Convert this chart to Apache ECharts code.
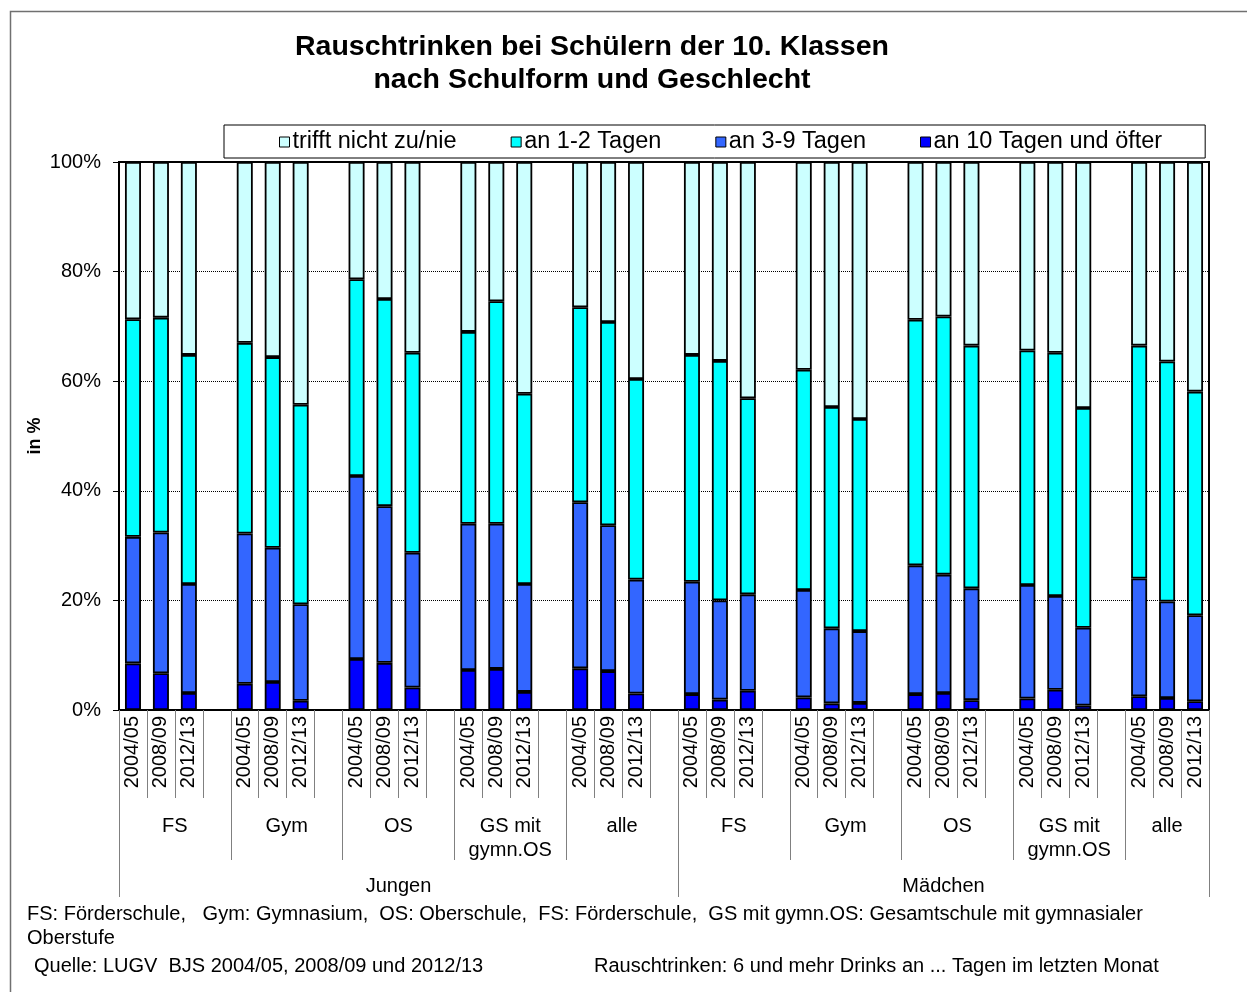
<!DOCTYPE html>
<html>
<head>
<meta charset="utf-8">
<script src="https://cdn.jsdelivr.net/npm/echarts@6/dist/echarts.min.js"></script>
<style>
  html, body { margin: 0; padding: 0; background: #fff; }
  #chart { width: 1247px; height: 992px; }
</style>
</head>
<body>
<div id="chart"></div>
<script>
const years = ['2004/05', '2008/09', '2012/13'];
const schools = ['FS', 'Gym', 'OS', 'GS mit\ngymn.OS', 'alle'];
const genders = ['Jungen', 'Mädchen'];
const seriesNames = ['trifft nicht zu/nie', 'an 1-2 Tagen', 'an 3-9 Tagen', 'an 10 Tagen und öfter'];

// Anteile in %, Reihenfolge: Jungen FS..alle, Mädchen FS..alle, je 2004/05, 2008/09, 2012/13
const tage10 = [8.5, 6.7, 3.1, 4.8, 5.1, 1.7, 9.3, 8.6, 4.1, 7.3, 7.5, 3.3, 7.6, 7.1, 3.0,
                2.9, 1.9, 3.5, 2.3, 1.2, 1.3, 2.9, 3.1, 1.8, 2.1, 3.7, 0.8, 2.5, 2.2, 1.6];
const tage3bis9 = [23.1, 25.7, 19.9, 27.4, 24.5, 17.6, 33.4, 28.6, 24.6, 26.7, 26.5, 19.7, 30.3, 26.6, 20.8,
                   20.5, 18.1, 17.6, 19.6, 13.7, 13.1, 23.5, 21.6, 20.4, 20.7, 17.1, 14.2, 21.5, 17.6, 15.7];
const tage1bis2 = [39.7, 39.2, 41.8, 34.8, 34.8, 36.4, 35.9, 37.8, 36.5, 35.0, 40.6, 34.7, 35.6, 37.1, 36.6,
                   41.4, 43.7, 35.8, 40.2, 40.4, 38.7, 44.8, 47.1, 44.3, 42.8, 44.4, 40.1, 42.5, 43.8, 40.8];
const nie = [28.7, 28.4, 35.2, 33.0, 35.6, 44.3, 21.4, 25.0, 34.8, 31.0, 25.4, 42.3, 26.5, 29.2, 39.6,
             35.2, 36.3, 43.1, 37.9, 44.7, 46.9, 28.8, 28.2, 33.5, 34.4, 34.8, 44.9, 33.5, 36.4, 41.9];
const yTicks = [0, 20, 40, 60, 80, 100];

// Kategorien mit Lücke nach jeder Gruppe (außer der letzten)
var cats = [], slot = [];
var groupTicks = [0], groupCenters = [], genderTicks = [0], genderCenters = [];
var k = 0;
genders.forEach(function (g, gi) {
  var gStart = cats.length;
  schools.forEach(function (s, si) {
    var start = cats.length;
    years.forEach(function (y) { cats.push(y); slot.push(k++); });
    if (!(gi === genders.length - 1 && si === schools.length - 1)) { cats.push(''); slot.push(-1); }
    groupCenters.push(start + (cats.length - start) / 2);
    groupTicks.push(cats.length);
  });
  genderCenters.push(gStart + (cats.length - gStart) / 2);
  genderTicks.push(cats.length);
});
var groupNames = [];
genders.forEach(function () { groupNames = groupNames.concat(schools); });

function pick(arr) {
  return slot.map(function (i) { return i < 0 ? '-' : arr[i]; });
}

var font = "'Liberation Sans', Arial, sans-serif";
var tickStyle = { color: '#808080', width: 1 };

function bar(name, data, color) {
  return {
    name: name,
    type: 'bar',
    stack: 'alle',
    barWidth: 16,
    data: data,
    itemStyle: { color: color, borderColor: '#000', borderWidth: 1.8 }
  };
}

var option = {
  animation: false,
  textStyle: { fontFamily: font, color: '#000' },
  title: [
    {
      text: 'Rauschtrinken bei Schülern der 10. Klassen\nnach Schulform und Geschlecht',
      left: 592, top: 31, padding: 0, textAlign: 'center',
      textStyle: { fontFamily: font, fontSize: 28.5, fontWeight: 'bold', color: '#000', lineHeight: 33 }
    },
    {
      text: 'FS: Förderschule,   Gym: Gymnasium,  OS: Oberschule,  FS: Förderschule,  GS mit gymn.OS: Gesamtschule mit gymnasialer\nOberstufe',
      left: 27, top: 902, padding: 0,
      textStyle: { fontFamily: font, fontSize: 20, fontWeight: 'normal', color: '#000', lineHeight: 24 }
    },
    {
      text: 'Quelle: LUGV  BJS 2004/05, 2008/09 und 2012/13',
      left: 34, top: 956, padding: 0,
      textStyle: { fontFamily: font, fontSize: 20, fontWeight: 'normal', color: '#000' }
    },
    {
      text: 'Rauschtrinken: 6 und mehr Drinks an ... Tagen im letzten Monat',
      left: 594, top: 956, padding: 0,
      textStyle: { fontFamily: font, fontSize: 20, fontWeight: 'normal', color: '#000' }
    }
  ],
  graphic: [{
    type: 'rect', left: 8, top: 9, silent: true,
    shape: { width: 1400, height: 1200 },
    style: { fill: 'none', stroke: '#707070', lineWidth: 1.5 }
  }],
  legend: {
    data: seriesNames,
    left: 224, top: 125,
    padding: [5, 43, 4, 55],
    itemGap: 54,
    itemWidth: 10, itemHeight: 10,
    icon: 'rect',
    borderColor: '#000', borderWidth: 1,
    itemStyle: { borderColor: '#000', borderWidth: 1 },
    textStyle: { fontFamily: font, fontSize: 23.5, color: '#000', padding: [0, 0, 0, -2] }
  },
  grid: {
    left: 119, right: 38, top: 162, bottom: 282,
    show: true, borderColor: '#000', borderWidth: 2, backgroundColor: 'transparent'
  },
  xAxis: [
    {
      type: 'category',
      data: cats,
      axisLine: { lineStyle: { color: '#000', width: 2 } },
      axisTick: { show: true, interval: 0, length: 88, lineStyle: tickStyle },
      axisLabel: { interval: 0, rotate: 90, margin: 6, fontSize: 20, color: '#000' },
      splitLine: { show: false }
    },
    {
      type: 'value', min: 0, max: cats.length, position: 'bottom',
      axisLine: { show: false },
      axisTick: { show: true, customValues: groupTicks, length: 150, lineStyle: tickStyle },
      axisLabel: {
        customValues: groupCenters, margin: 104, fontSize: 20, color: '#000', lineHeight: 24,
        formatter: function (v) { return groupNames[groupCenters.indexOf(v)] || ''; }
      },
      splitLine: { show: false }
    },
    {
      type: 'value', min: 0, max: cats.length, position: 'bottom',
      axisLine: { show: false },
      axisTick: { show: true, customValues: genderTicks, length: 187, lineStyle: tickStyle },
      axisLabel: {
        customValues: genderCenters, margin: 166, fontSize: 20, color: '#000',
        formatter: function (v) { return genders[genderCenters.indexOf(v)] || ''; }
      },
      splitLine: { show: false }
    }
  ],
  yAxis: {
    type: 'value', min: yTicks[0], max: yTicks[yTicks.length - 1], interval: 20,
    name: 'in %', nameLocation: 'middle', nameRotate: 90, nameGap: 75, nameMoveOverlap: false,
    nameTextStyle: { fontFamily: font, fontSize: 18, fontWeight: 'bold', color: '#000' },
    axisLine: { show: true, lineStyle: { color: '#000', width: 1 } },
    axisTick: { show: true, length: 6, lineStyle: { color: '#000' } },
    axisLabel: { formatter: '{value}%', fontSize: 20, color: '#000', margin: 18 },
    splitLine: { show: true, lineStyle: { color: '#000', type: 'dotted', width: 1 } }
  },
  series: [
    bar(seriesNames[3], pick(tage10), '#0000FF'),
    bar(seriesNames[2], pick(tage3bis9), '#3366FF'),
    bar(seriesNames[1], pick(tage1bis2), '#00FFFF'),
    bar(seriesNames[0], pick(nie), '#CCFFFF')
  ]
};

echarts.init(document.getElementById('chart')).setOption(option);
</script>
</body>
</html>
